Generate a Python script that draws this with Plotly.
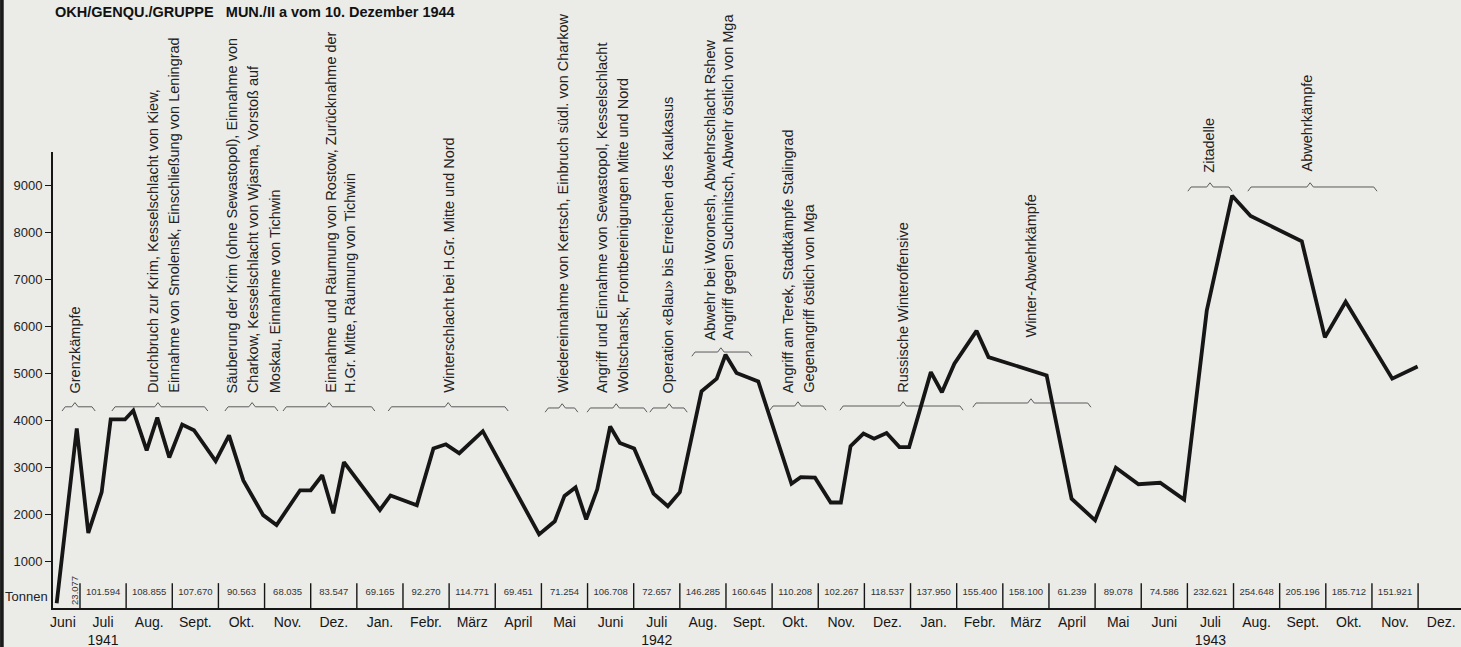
import plotly.graph_objects as go

# ---------------- data ----------------
# x position in months (1 = 1 July 1941), y = daily ammunition supply (tonnes)
x_pos = [0.495, 0.93, 1.18, 1.47, 1.665, 1.975, 2.155, 2.445, 2.675, 2.935,
         3.215, 3.47, 3.94, 4.23, 4.54, 4.97, 5.26, 5.77, 6.0, 6.25,
         6.49, 6.72, 7.50, 7.73, 8.30, 8.66, 8.93, 9.22, 9.73, 10.95,
         11.29, 11.50, 11.74, 11.97, 12.21, 12.49, 12.70, 13.01, 13.43, 13.74,
         14.00, 14.47, 14.80, 14.99, 15.23, 15.70, 16.42, 16.62, 16.93, 17.27,
         17.49, 17.70, 17.98, 18.21, 18.48, 18.76, 18.97, 19.44, 19.68, 19.95,
         20.43, 20.69, 21.95, 22.49, 23.00, 23.45, 23.94, 24.41, 24.93, 25.42,
         25.97, 26.37, 27.48, 27.98, 28.43, 29.44, 29.99]
tonnen = [100, 3830, 1600, 2470, 4020, 4020, 4210, 3360, 4060, 3210,
          3910, 3790, 3130, 3680, 2720, 1980, 1770, 2510, 2510, 2830,
          2020, 3110, 2090, 2400, 2190, 3400, 3490, 3300, 3770, 1570,
          1850, 2390, 2570, 1890, 2530, 3870, 3520, 3400, 2440, 2170,
          2470, 4620, 4890, 5400, 5010, 4830, 2650, 2790, 2780, 2250,
          2250, 3450, 3720, 3610, 3730, 3430, 3430, 5030, 4600, 5210,
          5910, 5350, 4960, 2330, 1870, 2990, 2640, 2670, 2310, 6340,
          8790, 8360, 7820, 5770, 6530, 4890, 5150]

# monthly totals (June 1941 ... November 1943)
monats_tonnen = [23077, 101594, 108855, 107670, 90563, 68035, 83547,
                 69165, 92270, 114771, 69451, 71254, 106708, 72657, 146285,
                 160645, 110208, 102267, 118537,
                 137950, 155400, 158100, 61239, 89078, 74586, 232621, 254648,
                 205196, 185712, 151921]

monate = ["Juni", "Juli<br>1941", "Aug.", "Sept.", "Okt.", "Nov.", "Dez.",
          "Jan.", "Febr.", "März", "April", "Mai", "Juni", "Juli<br>1942",
          "Aug.", "Sept.", "Okt.", "Nov.", "Dez.",
          "Jan.", "Febr.", "März", "April", "Mai", "Juni", "Juli<br>1943",
          "Aug.", "Sept.", "Okt.", "Nov.", "Dez."]

y_ticks = [1000, 2000, 3000, 4000, 5000, 6000, 7000, 8000, 9000]

# event labels: text lines, line x, text bottom y, brace start/end/centre, brace y
ereignisse = [
    (["Grenzkämpfe"], [0.89], 4540, 0.61, 1.33, 0.89, 4290),
    (["Durchbruch zur Krim, Kesselschlacht von Kiew,",
      "Einnahme von Smolensk, Einschließung von Leningrad"], [2.58, 3.02], 4540, 1.69, 3.77, 2.69, 4290),
    (["Säuberung der Krim (ohne Sewastopol), Einnahme von",
      "Charkow, Kesselschlacht von Wjasma, Vorstoß auf",
      "Moskau, Einnahme von Tichwin"], [4.29, 4.75, 5.23], 4540, 4.14, 5.29, 4.73, 4290),
    (["Einnahme und Räumung von Rostow, Zurücknahme der",
      "H.Gr. Mitte, Räumung von Tichwin"], [6.42, 6.85], 4540, 5.40, 7.39, 6.40, 4290),
    (["Winterschlacht bei H.Gr. Mitte und Nord"], [8.98], 4540, 7.68, 10.28, 8.98, 4290),
    (["Wiedereinnahme von Kertsch, Einbruch südl. von Charkow"], [11.45], 4540, 11.08, 11.79, 11.45, 4265),
    (["Angriff und Einnahme von Sewastopol, Kesselschlacht",
      "Woltschansk, Frontbereinigungen Mitte und Nord"], [12.31, 12.75], 4540, 11.99, 13.29, 12.62, 4265),
    (["Operation «Blau» bis Erreichen des Kaukasus"], [13.74], 4540, 13.35, 14.16, 13.77, 4265),
    (["Abwehr bei Woronesh, Abwehrschlacht Rshew",
      "Angriff gegen Suchinitsch, Abwehr östlich von Mga"], [14.65, 15.04], 5670, 14.26, 15.56, 14.89, 5458),
    (["Angriff am Terek, Stadtkämpfe Stalingrad",
      "Gegenangriff östlich von Mga"], [16.35, 16.78], 4540, 15.95, 17.17, 16.56, 4307),
    (["Russische Winteroffensive"], [18.82], 4540, 17.47, 20.14, 18.84, 4307),
    (["Winter-Abwehrkämpfe"], [21.59], 5714, 20.35, 22.91, 21.61, 4371),
    (["Zitadelle"], [25.45], 9232, 25.01, 25.97, 25.49, 8977),
    (["Abwehrkämpfe"], [27.59], 9275, 26.31, 29.11, 27.66, 8977),
]

# ---------------- figure ----------------
FONT = "Liberation Sans, Arial, Helvetica, sans-serif"
INK = "#161616"

fig = go.Figure()

# month box separators in the tonnage row
sep_x, sep_y = [], []
for m in range(1, len(monats_tonnen) + 1):
    sep_x += [m, m, None]
    sep_y += [0, 530, None]
fig.add_trace(go.Scatter(x=sep_x, y=sep_y, mode="lines",
                         line=dict(color=INK, width=1.4), hoverinfo="skip",
                         showlegend=False, cliponaxis=False))

# monthly totals text
def fmt(v):
    return f"{v:,}".replace(",", ".")

fig.add_trace(go.Scatter(
    x=[m + 0.5 for m in range(1, len(monats_tonnen))],
    y=[320] * (len(monats_tonnen) - 1),
    mode="text", text=[fmt(v) for v in monats_tonnen[1:]],
    textfont=dict(family=FONT, size=9.5, color="#333"),
    hoverinfo="skip", showlegend=False, cliponaxis=False))

# braces
bx, by = [], []
d, e = 90, 0.07
for lines, lx, ty, b0, b1, bc, yb in ereignisse:
    bx += [b0, b0 + e, bc - e, bc, bc + e, b1 - e, b1, None]
    by += [yb - d, yb, yb, yb + d, yb, yb, yb - d, None]
fig.add_trace(go.Scatter(x=bx, y=by, mode="lines",
                         line=dict(color="#5a5a5a", width=1), hoverinfo="skip",
                         showlegend=False, cliponaxis=False))

# main line
fig.add_trace(go.Scatter(x=x_pos, y=tonnen, mode="lines",
                         line=dict(color=INK, width=3.8), showlegend=False,
                         cliponaxis=False))

annotations = []
for lines, lx, ty, b0, b1, bc, yb in ereignisse:
    for txt, xx in zip(lines, lx):
        annotations.append(dict(x=xx, y=ty, xref="x", yref="y", text=txt,
                                textangle=-90, showarrow=False,
                                xanchor="center", yanchor="bottom",
                                font=dict(family=FONT, size=14.5, color="#222")))

# June 1941 rotated value
annotations.append(dict(x=0.89, y=384, xref="x", yref="y", text=fmt(monats_tonnen[0]),
                        textangle=-90, showarrow=False, xanchor="center", yanchor="middle",
                        font=dict(family=FONT, size=9.5, color="#333")))

# unit label
annotations.append(dict(x=0, y=235, xref="paper", yref="y", text="Tonnen",
                        showarrow=False, xanchor="right", yanchor="middle", xshift=-3,
                        font=dict(family=FONT, size=13, color="#222")))

# title
annotations.append(dict(x=0, y=1.307, xref="paper", yref="paper",
                        text="<b>OKH/GENQU./GRUPPE\u00a0\u00a0\u00a0MUN./II a vom 10. Dezember 1944</b>",
                        showarrow=False, xanchor="left", yanchor="middle",
                        font=dict(family=FONT, size=14.5, color="#111")))

shapes = [
    dict(type="rect", xref="paper", yref="paper", x0=-0.0376, x1=-0.0350,
         y0=-0.1, y1=1.4, fillcolor="#1a1a1a", line=dict(width=0), layer="below"),
]

fig.update_layout(
    width=1461, height=647,
    margin=dict(l=53, r=0, t=152, b=39),
    paper_bgcolor="#ebebe8", plot_bgcolor="#ebebe8",
    font=dict(family=FONT, color=INK),
    annotations=annotations, shapes=shapes,
    xaxis=dict(range=[0.415, 30.93], showgrid=False, zeroline=False,
               showline=True, linecolor=INK, linewidth=2, ticks="",
               tickvals=[0.63] + [m + 0.5 for m in range(1, len(monate))],
               ticktext=monate, tickfont=dict(family=FONT, size=14, color=INK)),
    yaxis=dict(range=[0, 9723], showgrid=False, zeroline=False,
               showline=True, linecolor=INK, linewidth=2,
               ticks="outside", ticklen=6, tickwidth=1.3, tickcolor=INK,
               tickvals=y_ticks, ticktext=[str(v) for v in y_ticks],
               tickfont=dict(family=FONT, size=13, color="#222")),
)

fig.write_html(
    "out.html",
    config={"displayModeBar": False},
    post_script="document.body.style.margin='0';document.body.style.overflow='hidden';"
                "document.body.style.background='#ebebe8';",
)
